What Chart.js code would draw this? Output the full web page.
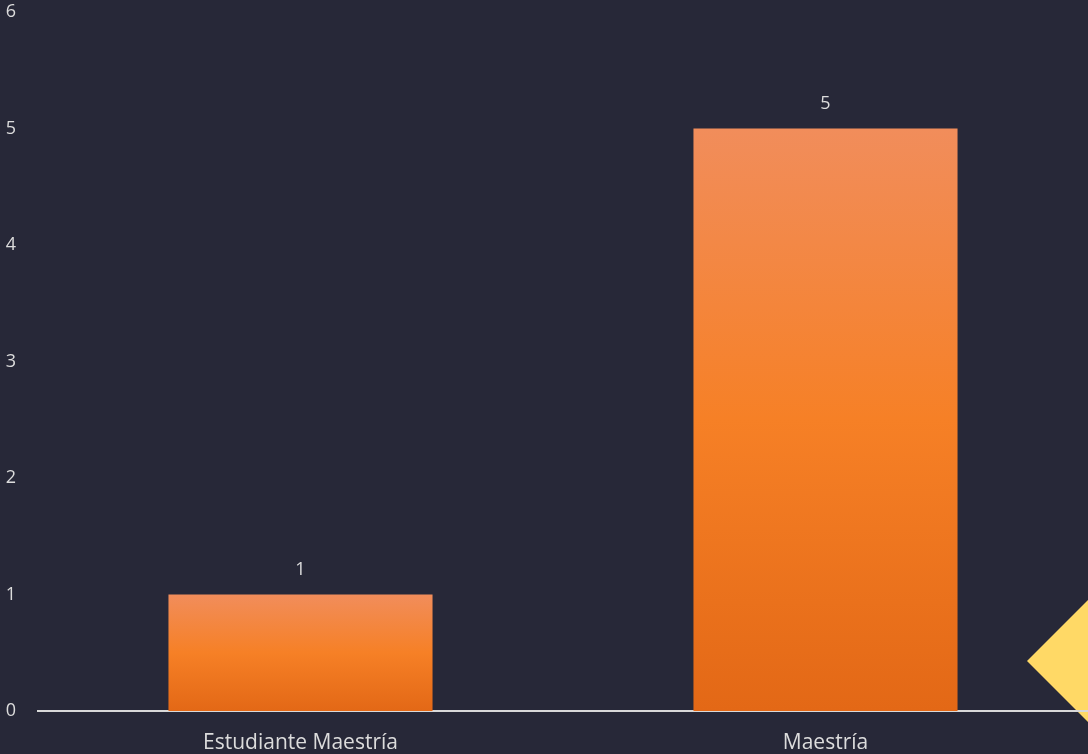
<!DOCTYPE html>
<html>
<head>
<meta charset="utf-8">
<script src="https://cdn.jsdelivr.net/npm/chart.js@4/dist/chart.umd.min.js"></script>
<style>
  html, body { margin: 0; padding: 0; background: #272838; }
  #wrap { width: 1088px; height: 754px; position: relative; }
</style>
</head>
<body>
<div id="wrap"><canvas id="chart"></canvas></div>
<script>
const categories = ['Estudiante Maestría', 'Maestría'];
const counts = [1, 5];
const yTicks = [0, 1, 2, 3, 4, 5, 6];

const textColor = '#dcdcdc';
const fontFamily = "'Open Sans', 'Noto Sans', sans-serif";

// each bar gets its own vertical gradient, from its top down to zero
function barGradient(context) {
    const chart = context.chart;
    const { ctx, chartArea } = chart;
    if (!chartArea || context.type !== 'data') return '#f58025';
    const yScale = chart.scales.y;
    const top = yScale.getPixelForValue(counts[context.dataIndex]);
    const bottom = yScale.getPixelForValue(0);
    const g = ctx.createLinearGradient(0, top, 0, bottom);
    g.addColorStop(0, '#f18d5b');
    g.addColorStop(0.5, '#f68026');
    g.addColorStop(1, '#e36816');
    return g;
}

// yellow diamond decoration in the lower right corner, under the axis line
const diamondPlugin = {
    id: 'diamond',
    beforeDraw(chart) {
        const ctx = chart.ctx;
        const cx = 1088, cy = 661, r = 61;
        ctx.save();
        ctx.fillStyle = '#ffd966';
        ctx.beginPath();
        ctx.moveTo(cx, cy - r);
        ctx.lineTo(cx + r, cy);
        ctx.lineTo(cx, cy + r);
        ctx.lineTo(cx - r, cy);
        ctx.closePath();
        ctx.fill();
        ctx.restore();
    }
};

const valueLabels = {
    id: 'valueLabels',
    afterDatasetsDraw(chart) {
        const ctx = chart.ctx;
        ctx.save();
        ctx.fillStyle = textColor;
        ctx.font = '18px ' + fontFamily;
        ctx.textAlign = 'center';
        ctx.textBaseline = 'middle';
        chart.getDatasetMeta(0).data.forEach((bar, i) => {
            ctx.fillText(String(counts[i]), bar.x, bar.y - 25);
        });
        ctx.restore();
    }
};

new Chart(document.getElementById('chart'), {
    type: 'bar',
    data: {
        labels: categories,
        datasets: [{
            data: counts,
            backgroundColor: barGradient,
            borderWidth: 0,
            categoryPercentage: 1,
            barPercentage: 0.503
        }]
    },
    options: {
        responsive: true,
        maintainAspectRatio: false,
        animation: false,
        layout: { padding: { left: 5, right: -4, top: 0, bottom: 0 } },
        plugins: {
            legend: { display: false },
            tooltip: { enabled: false }
        },
        scales: {
            x: {
                afterFit(axis) {
                    axis.height = 43;
                    axis.paddingLeft = 0;
                    axis.paddingRight = 0;
                },
                grid: { display: false, drawTicks: false },
                border: { display: true, color: '#d9d9d9', width: 2 },
                ticks: {
                    color: textColor,
                    font: { family: fontFamily, size: 21 },
                    padding: 19
                }
            },
            y: {
                min: 0,
                max: 6,
                afterFit(axis) {
                    axis.width = 33;
                    axis.paddingTop = 12;
                    axis.paddingBottom = 0;
                },
                afterBuildTicks(axis) {
                    axis.ticks = yTicks.map(v => ({ value: v }));
                },
                grid: { display: false, drawTicks: false },
                border: { display: false },
                ticks: {
                    color: textColor,
                    font: { family: fontFamily, size: 18 },
                    padding: 22
                }
            }
        }
    },
    plugins: [diamondPlugin, valueLabels]
});
</script>
</body>
</html>
